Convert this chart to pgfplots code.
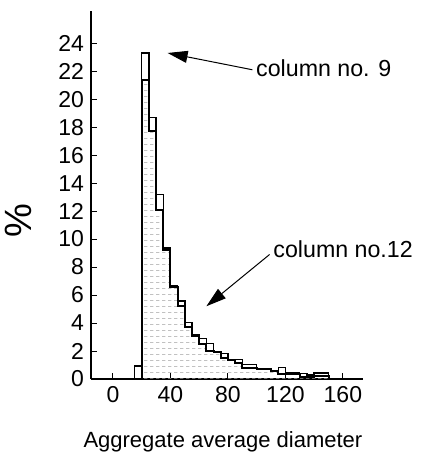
\documentclass[border=0pt]{standalone}
\usepackage{fontspec}
\setmainfont{Liberation Sans}
\usepackage{pgfplots}
\pgfplotsset{compat=1.18}
\usetikzlibrary{arrows.meta, patterns.meta}

% dashed horizontal hatching for column no.12
\tikzdeclarepattern{
  name=hdash,
  type=uncolored,
  bottom left={(0pt,0pt)},
  top right={(3pt,3pt)},
  tile size={(3pt,3pt)},
  code={\draw[line width=0.35pt] (0pt,1.5pt) -- (2pt,1.5pt);}
}

% bin left edge, percent
\pgfplotstableread{
x    y
15   0
15   0.93
20   23.3
25   18.7
30   13.2
35   9.35
40   6.7
45   5.57
50   4.05
55   3.2
60   2.9
65   2.55
70   1.95
75   1.83
80   1.36
85   1.4
90   1.05
95   1.05
100  0.74
105  0.74
110  0.57
115  0.81
120  0.48
125  0.48
130  0.4
135  0.3
140  0.43
145  0.43
150  0.43
150  0
}\colnine

\pgfplotstableread{
x    y
20   0
20   21.4
25   17.7
30   12.1
35   9.2
40   6.6
45   5.2
50   3.7
55   3.1
60   2.5
65   2.0
70   1.9
75   1.52
80   1.36
85   1.16
90   0.8
95   0.8
100  0.7
105  0.7
110  0.55
115  0.33
120  0.33
125  0.33
130  0.16
135  0.16
140  0.2
145  0.2
150  0.2
150  0
}\coltwelve

\begin{document}
\begin{tikzpicture}
\begin{axis}[
    scale only axis,
    width=136pt, height=184pt,
    xmin=-15.3, xmax=174,
    ymin=0, ymax=26.3,
    axis lines=left,
    axis line style={-, line width=0.8pt},
    tick align=inside,
    major tick length=3pt,
    tick style={black, line width=0.5pt},
    xtick={0,40,80,120,160},
    ytick={0,2,...,24},
    tick label style={font=\fontsize{11.5}{13}\selectfont},
    /pgf/number format/assume math mode=true,
    xlabel={Aggregate average diameter},
    ylabel={\%},
    xlabel style={font=\fontsize{11}{13}\selectfont,
        at={(axis description cs:0.485,0)}, anchor=center, yshift=-31.5pt},
    ylabel style={font=\fontsize{19}{21}\selectfont,
        at={(axis description cs:-0.265,0.43)}, anchor=center},
    clip=false,
]

\addplot[const plot, draw=none, pattern=hdash, pattern color=gray!75]
    table[x=x, y=y] {\coltwelve} \closedcycle;

\addplot[const plot, black, line width=0.7pt] table[x=x, y=y] {\colnine};
\addplot[const plot, black, line width=1pt] table[x=x, y=y] {\coltwelve};

\draw[line width=0.5pt, -{Triangle[length=10pt,width=6pt]}]
    (axis cs:97,22.1) -- (axis cs:38,23.3);
\node[anchor=west, font=\fontsize{11.6}{13}\selectfont, inner sep=1pt]
    at (axis cs:98,22.2) {column no. 9};

\draw[line width=0.5pt, -{Triangle[length=10pt,width=6pt]}]
    (axis cs:109,8.9) -- (axis cs:65,5.2);
\node[anchor=west, font=\fontsize{11.6}{13}\selectfont, inner sep=1pt]
    at (axis cs:110,9.3) {column no.12};

% page frame in axis description units (reference margins)
\coordinate (bbsw) at (axis description cs:-0.3346,-0.2337);
\coordinate (bbne) at (axis description cs:1.2132,1.0299);
\end{axis}
\pgfresetboundingbox
\path[use as bounding box] (bbsw) rectangle (bbne);
\end{tikzpicture}
\end{document}
